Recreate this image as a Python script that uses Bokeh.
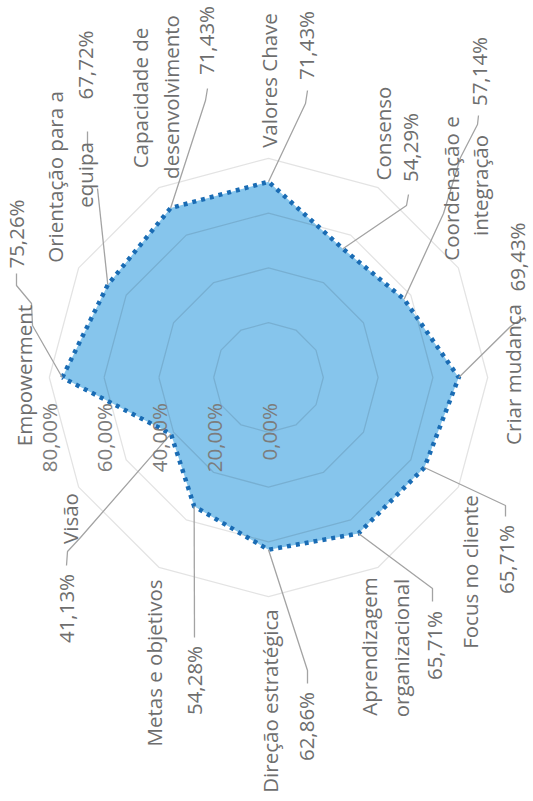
import math

from bokeh.core.properties import value
from bokeh.embed import file_html
from bokeh.models import Range1d
from bokeh.plotting import figure
from bokeh.resources import INLINE

# ---------------------------------------------------------------- data
categories = [
    "Empowerment",
    "Orientação para a equipa",
    "Capacidade de desenvolvimento",
    "Valores Chave",
    "Consenso",
    "Coordenação e integração",
    "Criar mudança",
    "Focus no cliente",
    "Aprendizagem organizacional",
    "Direção estratégica",
    "Metas e objetivos",
    "Visão",
]
scores = [75.26, 67.72, 71.43, 71.43, 54.29, 57.14, 69.43, 65.71, 65.71, 62.86, 54.28, 41.13]
ring_values = [20, 40, 60, 80]
tick_values = [0, 20, 40, 60, 80]
tick_labels = ["0,00%", "20,00%", "40,00%", "60,00%", "80,00%"]

# ---------------------------------------------------------------- page layout
W, H = 533, 801
CX, CY = 268, 377      # pixel position of the radar centre
S = 2.74               # pixels per percentage point
FONT = value("Open Sans")
FSIZE = "20.5px"
TEXT_COL = "#6e6e6e"
TICK_COL = "#7c7c7c"
LEADER_COL = "#a3a3a3"
TEXT_SHIFT = -8.5      # rotated text: anchor offset from the ink's right edge

# words per line, ink right edge x (px), centre y (px) of each category label line
NAME_LINES = [
    [(1, 32, 375)],
    [(3, 63, 176.5), (1, 93, 174.5)],
    [(2, 147.5, 97.5), (1, 179, 96.5)],
    [(2, 277, 80)],
    [(1, 391, 133)],
    [(2, 458.5, 188), (1, 488, 185)],
    [(2, 521, 374)],
    [(3, 478, 571.5)],
    [(1, 377, 646), (1, 409, 647.5)],
    [(2, 277.5, 700.5)],
    [(3, 162, 662.5)],
    [(1, 78, 518)],
]
# ink right edge x, centre y (px) of each value label
VALUE_POS = [(24, 233.5), (93, 64.5), (214, 40), (314, 45), (418, 147), (487, 71),
             (525, 256.5), (514, 559), (442, 645), (314, 726), (202, 680), (74, 608)]
# bends (px) of the leader running from each point to its label
LEADER_BENDS = [
    [(32, 325), (31, 303), (16, 285), (16, 273)],
    [(97, 188)],
    [(205, 100), (207, 88)],
    [(305, 103), (307, 90)],
    [(406, 205), (408, 194)],
    [(443, 213), (460, 157), (477, 124), (478, 115)],
    [(510, 326), (520, 319)],
    [(505, 505), (505, 516)],
    [(432, 588), (432, 601)],
    [(307, 670), (307, 683)],
    [(194, 637)],
    [(80, 537), (67, 551), (66, 565)],
]
SEPARATOR_DASHES = [[(87, 131), (87, 150)]]
TICK_BASE_DX, TICK_END_Y = 8.5, 402.5


def to_data(xp, yp):
    return (xp - CX) / S, (CY - yp) / S


n = len(categories)
angles = [math.pi - i * 2 * math.pi / n for i in range(n)]   # first axis to the left, clockwise


def polar(r, i):
    return r * math.cos(angles[i]), r * math.sin(angles[i])


def pct(v):
    return f"{v:.2f}".replace(".", ",") + "%"


p = figure(width=W, height=H, output_backend="svg", toolbar_location=None,
           x_range=Range1d(-CX / S, (W - CX) / S),
           y_range=Range1d(-(H - CY) / S, CY / S),
           min_border=0, background_fill_color="white", border_fill_color="white")
p.axis.visible = False
p.grid.visible = False
p.outline_line_color = None

# filled series area
pts = [polar(v, i) for i, v in enumerate(scores)]
xs = [q[0] for q in pts]
ys = [q[1] for q in pts]
p.patch(xs, ys, fill_color="#86c5ec", line_color=None)

# polygon grid rings (translucent so they darken over the fill)
ring_xs, ring_ys = [], []
for rv in ring_values:
    rp = [polar(rv, i) for i in range(n)] + [polar(rv, 0)]
    ring_xs.append([q[0] for q in rp])
    ring_ys.append([q[1] for q in rp])
p.multi_line(ring_xs, ring_ys, line_color="black", line_alpha=0.11, line_width=1.3)

# dotted series outline
p.line(xs + [xs[0]], ys + [ys[0]], line_color="#1a6cb4", line_width=4.5,
       line_dash="4 5", line_join="miter")

# leader lines
lx, ly = [], []
for i, bends in enumerate(LEADER_BENDS):
    seg = [pts[i]] + [to_data(*b) for b in bends]
    lx.append([q[0] for q in seg])
    ly.append([q[1] for q in seg])
for dash in SEPARATOR_DASHES:
    seg = [to_data(*b) for b in dash]
    lx.append([q[0] for q in seg])
    ly.append([q[1] for q in seg])
p.multi_line(lx, ly, line_color=LEADER_COL, line_width=1.3)

# radial value axis labels
tx = [-(v) + (TICK_BASE_DX + TEXT_SHIFT) / S for v in tick_values]
ty = [(CY - TICK_END_Y) / S] * len(tick_values)
p.text(tx, ty, text=tick_labels, angle=math.pi / 2, text_align="right",
       text_baseline="alphabetic", text_font=FONT, text_font_size=FSIZE,
       text_color=TICK_COL)

# category and value labels
txt, cx_, cy_ = [], [], []
for i, name in enumerate(categories):
    words = name.split(" ")
    k = 0
    for nw, bx, yc in NAME_LINES[i]:
        txt.append(" ".join(words[k:k + nw]))
        k += nw
        dx, dy = to_data(bx + TEXT_SHIFT, yc)
        cx_.append(dx)
        cy_.append(dy)
    bx, yc = VALUE_POS[i]
    dx, dy = to_data(bx + TEXT_SHIFT, yc)
    txt.append(pct(scores[i]))
    cx_.append(dx)
    cy_.append(dy)
p.text(cx_, cy_, text=txt, angle=math.pi / 2, text_align="center",
       text_baseline="alphabetic", text_font=FONT, text_font_size=FSIZE,
       text_color=TEXT_COL)

open("out.html", "w").write(file_html(p, INLINE))
